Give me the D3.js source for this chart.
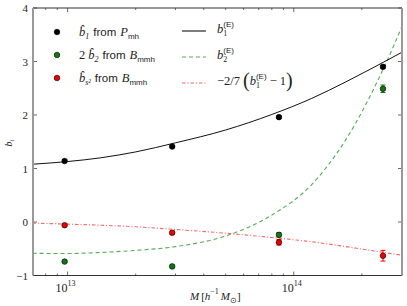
<!DOCTYPE html>
<html>
<head>
<meta charset="utf-8">
<script src="https://cdn.jsdelivr.net/npm/d3@7"></script>
<style>
  body { margin: 0; background: #fff; }
  text { font-family: "Liberation Serif", serif; fill: #222; }
  text.sf { font-family: "Liberation Sans", sans-serif; }
</style>
</head>
<body>
<div id="chart"></div>
<script>
// measured halo masses and bias values
const masses = [9.7e12, 2.9e13, 8.6e13, 2.48e14];
const b1 = [1.14, 1.41, 1.96, 2.90];
const b1Err = [0.015, 0.015, 0.02, 0.03];
const b2x2 = [-0.74, -0.83, -0.24, 2.49];
const b2x2Err = [0.02, 0.02, 0.04, 0.07];
const bs2 = [-0.06, -0.20, -0.38, -0.63];
const bs2Err = [0.02, 0.03, 0.05, 0.10];

// theory curves
const curveMass = [7.0e12, 1e13, 1.4e13, 2e13, 3e13, 5e13, 8e13, 1.2e14, 1.7e14, 2.5e14, 3.0e14];
const b1E = [1.08, 1.13, 1.20, 1.31, 1.48, 1.72, 2.01, 2.31, 2.62, 2.99, 3.17];
const b2E = [-0.585, -0.59, -0.57, -0.53, -0.46, -0.26, 0.13, 0.70, 1.54, 2.88, 3.64];
const bs2E = [-0.02, -0.04, -0.06, -0.09, -0.14, -0.21, -0.29, -0.37, -0.46, -0.57, -0.62];

const yTicks = [-1, 0, 1, 2, 3, 4];
const xMajor = [13, 14];

const width = 407, height = 306;
const margin = { top: 8, right: 5, bottom: 30.5, left: 33 };

const svg = d3.select("#chart").append("svg")
    .attr("width", width).attr("height", height);

const x = d3.scaleLog().domain([7.03e12, 3.01e14]).range([margin.left, width - margin.right]);
const y = d3.scaleLinear().domain([-1, 4]).range([height - margin.bottom, margin.top]);

const x0 = margin.left, x1 = width - margin.right, y0 = height - margin.bottom, y1 = margin.top;

// lay out a row of text pieces left to right; {sup, sub} pieces are stacked
function mtext(px, py, items) {
    let cx = px;
    const put = (t, xx, yy, o) => {
        const el = svg.append("text").attr("x", xx).attr("y", yy)
            .attr("font-size", o.size || 12).text(t);
        if (o.it) el.attr("font-style", "italic");
        if (o.sans) el.attr("class", "sf");
        return el.node().getComputedTextLength();
    };
    items.forEach(o => {
        if (o.sup !== undefined || o.sub !== undefined) {
            let w = 0;
            if (o.sup !== undefined) w = Math.max(w, put(o.sup, cx, py - 6, { size: 8, sans: o.supSans }));
            if (o.sub !== undefined) w = Math.max(w, put(o.sub, cx, py + 3, { size: 8, it: o.subIt, sans: o.subSans }));
            cx += w + (o.gap || 0);
        } else {
            cx += put(o.t, cx, py + (o.dy || 0), o) + (o.gap || 0);
        }
    });
}

// clip for curves
svg.append("clipPath").attr("id", "clip").append("rect")
    .attr("x", x0).attr("y", y1).attr("width", x1 - x0).attr("height", y0 - y1);

// ticks (inside, all four sides)
const minor = [];
for (let e = 12; e <= 14; e++) for (let k = 2; k <= 9; k++) {
    const v = k * Math.pow(10, e);
    if (v > x.domain()[0] && v < x.domain()[1]) minor.push(v);
}
const tickG = svg.append("g").attr("stroke", "#444").attr("stroke-width", 0.8);
minor.forEach(v => {
    tickG.append("line").attr("x1", x(v)).attr("x2", x(v)).attr("y1", y0).attr("y2", y0 - 2);
    tickG.append("line").attr("x1", x(v)).attr("x2", x(v)).attr("y1", y1).attr("y2", y1 + 2);
});
xMajor.forEach(e => {
    const v = Math.pow(10, e);
    tickG.append("line").attr("x1", x(v)).attr("x2", x(v)).attr("y1", y0).attr("y2", y0 - 4);
    tickG.append("line").attr("x1", x(v)).attr("x2", x(v)).attr("y1", y1).attr("y2", y1 + 4);
});
yTicks.forEach(v => {
    tickG.append("line").attr("x1", x0).attr("x2", x0 + 4).attr("y1", y(v)).attr("y2", y(v));
    tickG.append("line").attr("x1", x1).attr("x2", x1 - 4).attr("y1", y(v)).attr("y2", y(v));
});

// theory lines
const line = d3.line().x(d => x(d[0])).y(d => y(d[1])).curve(d3.curveMonotoneX);
const plotG = svg.append("g").attr("clip-path", "url(#clip)");
plotG.append("path").datum(curveMass.map((m, i) => [m, bs2E[i]]))
    .attr("d", line).attr("fill", "none").attr("stroke", "#ff3333").attr("stroke-opacity", 0.75)
    .attr("stroke-width", 1.1).attr("stroke-dasharray", "3.5,2,1,2");
plotG.append("path").datum(curveMass.map((m, i) => [m, b2E[i]]))
    .attr("d", line).attr("fill", "none").attr("stroke", "#2a9a2a").attr("stroke-opacity", 0.8)
    .attr("stroke-width", 1.1).attr("stroke-dasharray", "4,3");
plotG.append("path").datum(curveMass.map((m, i) => [m, b1E[i]]))
    .attr("d", line).attr("fill", "none").attr("stroke", "#111").attr("stroke-width", 1);

// data points with error bars
function points(vals, errs, color) {
    const g = svg.append("g");
    masses.forEach((m, i) => {
        const cx = x(m), top = y(vals[i] + errs[i]), bot = y(vals[i] - errs[i]);
        g.append("line").attr("x1", cx).attr("x2", cx).attr("y1", top).attr("y2", bot)
            .attr("stroke", color).attr("stroke-width", 1);
        [top, bot].forEach(yy => g.append("line").attr("x1", cx - 2.5).attr("x2", cx + 2.5)
            .attr("y1", yy).attr("y2", yy).attr("stroke", color).attr("stroke-width", 1));
        g.append("circle").attr("cx", cx).attr("cy", y(vals[i])).attr("r", 2.8)
            .attr("fill", color).attr("stroke", "#000").attr("stroke-width", 0.6);
    });
}
points(b1, b1Err, "#000");
points(b2x2, b2x2Err, "#117711");
points(bs2, bs2Err, "#ee0000");

// frame
svg.append("line").attr("x1", x0).attr("x2", x1).attr("y1", y0).attr("y2", y0).attr("stroke", "#333").attr("stroke-width", 1.2);
svg.append("line").attr("x1", x0).attr("x2", x1).attr("y1", y1).attr("y2", y1).attr("stroke", "#333").attr("stroke-width", 1.2);
svg.append("line").attr("x1", x0).attr("x2", x0).attr("y1", y1).attr("y2", y0).attr("stroke", "#999").attr("stroke-width", 2);
svg.append("line").attr("x1", x1).attr("x2", x1).attr("y1", y1).attr("y2", y0).attr("stroke", "#999").attr("stroke-width", 2);

// y tick labels
yTicks.forEach(v => {
    svg.append("text").attr("x", x0 - 5).attr("y", y(v) + 4).attr("text-anchor", "end")
        .attr("font-size", 11).text(v < 0 ? "\u2212" + Math.abs(v) : v);
});
// x tick labels
xMajor.forEach(e => {
    mtext(x(Math.pow(10, e)) - 12, y0 + 16, [{ t: "10", size: 12 }, { sup: String(e) }]);
});

// axis labels
mtext(190, 300, [
    { t: "M", it: true, size: 11, gap: 2 }, { t: "[", size: 11 }, { t: "h", it: true, size: 11 },
    { sup: "\u22121", gap: 2 }, { t: "M", it: true, size: 11 }, { sub: "\u2299" }, { t: "]", size: 11 }
]);

const yl = svg.append("text").attr("transform", "translate(12,143) rotate(-90)")
    .attr("text-anchor", "middle").attr("font-size", 10);
yl.append("tspan").attr("font-style", "italic").text("b");
yl.append("tspan").attr("dy", 2).attr("font-size", 7).attr("font-style", "italic").text("i");

// legend: data
const legColors = ["#000", "#117711", "#ee0000"];
const legY = [32, 55, 78];
const legSub = ["1", "2", "s\u00b2"];
const legPre = ["", "2", ""];
const legSrc = ["P", "B", "B"];
const legSrcSub = ["mh", "mmh", "mmh"];
legColors.forEach((c, i) => {
    svg.append("circle").attr("cx", 57).attr("cy", legY[i]).attr("r", 2.8)
        .attr("fill", c).attr("stroke", "#000").attr("stroke-width", 0.6);
    const items = [];
    if (legPre[i]) items.push({ t: legPre[i], size: 12.5, gap: 3 });
    items.push({ t: "b\u0302", it: true, size: 12.5 });
    items.push({ sub: legSub[i], subIt: true, gap: 4 });
    items.push({ t: "from", sans: true, size: 11.5, gap: 4 });
    items.push({ t: legSrc[i], it: true, size: 12.5 });
    items.push({ sub: legSrcSub[i], subSans: true });
    mtext(79, legY[i] + 4, items);
});

// legend: theory
const legLineY = [31, 57, 83];
const legStroke = ["#111", "#2a9a2a", "#ff3333"];
const legDash = [null, "4,3", "3.5,2,1,2"];
const legOp = [1, 0.8, 0.75];
legLineY.forEach((ly, i) => {
    svg.append("line").attr("x1", 182).attr("x2", 206).attr("y1", ly).attr("y2", ly)
        .attr("stroke", legStroke[i]).attr("stroke-opacity", legOp[i]).attr("stroke-width", 1.1)
        .attr("stroke-dasharray", legDash[i]);
});
mtext(217, 33, [{ t: "b", it: true, size: 12.5 }, { sup: "(E)", sub: "1", supSans: true }]);
mtext(217, 59, [{ t: "b", it: true, size: 12.5 }, { sup: "(E)", sub: "2", supSans: true }]);
mtext(217, 85, [
    { t: "\u22122/7", size: 12.5, gap: 3 }, { t: "(", size: 20, dy: 2 },
    { t: "b", it: true, size: 12.5 }, { sup: "(E)", sub: "1", supSans: true, gap: 3 },
    { t: "\u2212 1", size: 12.5 }, { t: ")", size: 20, dy: 2 }
]);
</script>
</body>
</html>
